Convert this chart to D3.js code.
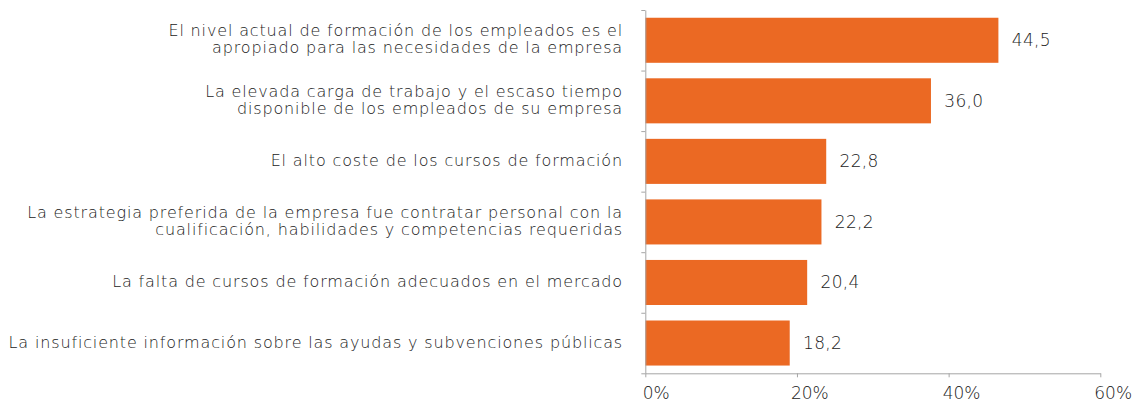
<!DOCTYPE html>
<html><head><meta charset="utf-8">
<script src="https://cdn.jsdelivr.net/npm/d3@7"></script>
<style>
body{margin:0;background:#fff}
svg text{font-family:"DejaVu Sans",sans-serif;font-weight:200;fill:#1a1a1a}
</style></head>
<body><svg id="chart" width="1132" height="403"></svg>
<script>
const categories = [
  ["El nivel actual de formación de los empleados es el", "apropiado para las necesidades de la empresa"],
  ["La elevada carga de trabajo y el escaso tiempo", "disponible de los empleados de su empresa"],
  ["El alto coste de los cursos de formación"],
  ["La estrategia preferida de la empresa fue contratar personal con la", "cualificación, habilidades y competencias requeridas"],
  ["La falta de cursos de formación adecuados en el mercado"],
  ["La insuficiente información sobre las ayudas y subvenciones públicas"]
];
const values = [44.5, 36.0, 22.8, 22.2, 20.4, 18.2];
const valueLabels = ["44,5", "36,0", "22,8", "22,2", "20,4", "18,2"];
const tickValues = [0, 20, 40, 60];
const tickLabels = ["0%", "20%", "40%", "60%"];

(function () {
const svg = d3.select("#chart");
const plotTop = 10, plotBottom = 373.3, x0 = 645.3;
const idx = d3.range(categories.length);

const y = d3.scaleBand().domain(idx).range([plotTop, plotBottom]).paddingInner(0.256).paddingOuter(0.128);
const yEdge = d3.scaleLinear().domain([0, categories.length]).range([plotTop, plotBottom]);
const xAxisScale = d3.scaleLinear().domain([0, 60]).range([x0, 1100.3]);
const xBar = d3.scaleLinear().domain([0, 60]).range([x0, x0 + 60 * 7.935]);

// bars
svg.append("g").selectAll("rect").data(idx).join("rect")
  .attr("x", x0)
  .attr("y", i => y(i))
  .attr("width", i => xBar(values[i]) - x0)
  .attr("height", y.bandwidth())
  .attr("fill", "#EB6923");

// value labels
svg.append("g").selectAll("text").data(idx).join("text")
  .attr("x", i => xBar(values[i]) + 13.4)
  .attr("y", i => y(i) + y.bandwidth() / 2 + 6)
  .style("font-size", "17px")
  .style("letter-spacing", "0.3px")
  .text(i => valueLabels[i]);

// category labels
const lineH = 17;
const cat = svg.append("g").selectAll("text").data(idx).join("text")
  .attr("text-anchor", "end")
  .style("font-size", "16px")
  .style("letter-spacing", "0.85px");
cat.each(function(i) {
  const lines = categories[i];
  const cy = y(i) + y.bandwidth() / 2;
  d3.select(this).selectAll("tspan").data(lines).join("tspan")
    .attr("x", 623)
    .attr("y", (d, k) => cy + (k - (lines.length - 1) / 2) * lineH + 4.5)
    .text(d => d);
});

// left axis
const gl = svg.append("g").attr("transform", `translate(${x0},0)`)
  .call(d3.axisLeft(yEdge).tickValues(d3.range(categories.length + 1)).tickSize(4).tickSizeOuter(0).tickFormat(""));
// bottom axis
const gb = svg.append("g").attr("transform", `translate(0,${plotBottom})`)
  .call(d3.axisBottom(xAxisScale).tickValues(tickValues).tickSize(4).tickSizeOuter(0).tickFormat(""));
[gl, gb].forEach(g => { g.selectAll("path,line").attr("stroke", "#a6a6a6").attr("stroke-width", 1); });

svg.append("g").selectAll("text").data(tickValues).join("text")
  .attr("x", (d, i) => xAxisScale(d) + (i === 0 ? -2.6 : -6))
  .attr("y", 399.3)
  .style("font-size", "17px")
  .text((d, i) => tickLabels[i]);
})();
</script>
</body></html>
